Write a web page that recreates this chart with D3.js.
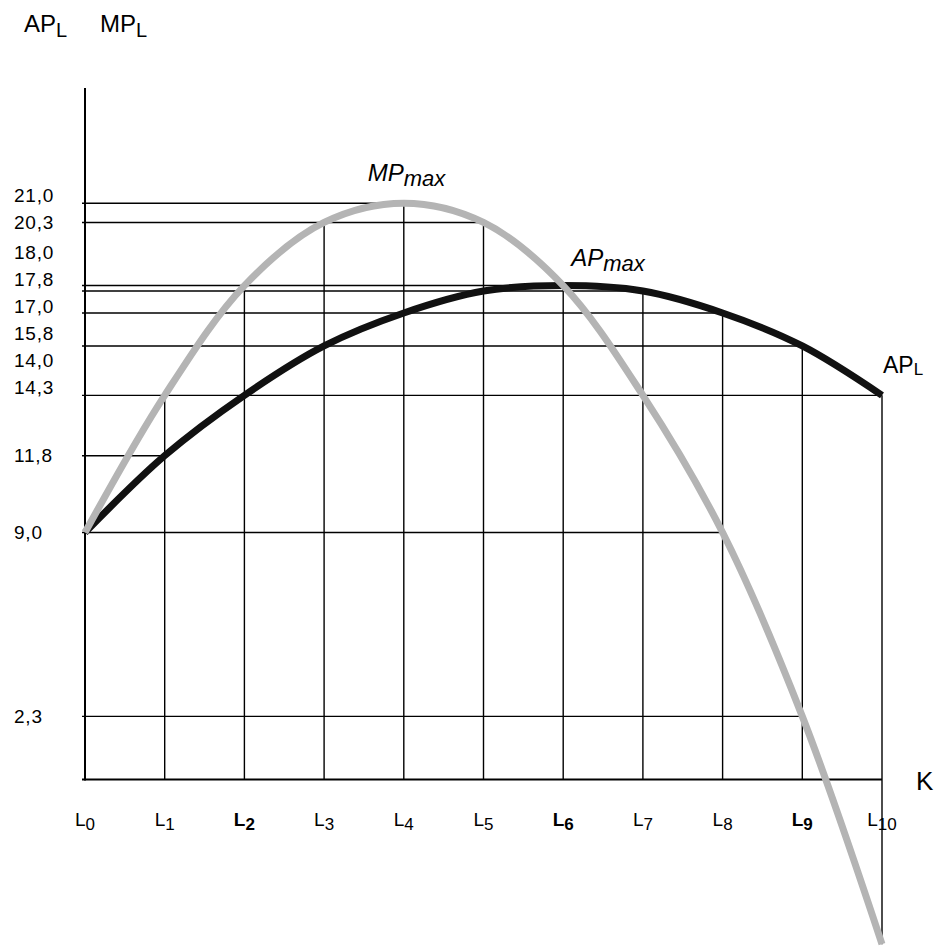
<!DOCTYPE html>
<html><head><meta charset="utf-8">
<script src="https://cdn.jsdelivr.net/npm/d3@7"></script>
<style>
html,body{margin:0;padding:0;background:#fff;}
svg{display:block;font-family:"Liberation Sans",Arial,Helvetica,sans-serif;}
</style>
</head><body>
<svg id="c" width="935" height="952"></svg>
<script>
// ---- data ----
const labourUnits = [0, 1, 2, 3, 4, 5, 6, 7, 8, 9, 10];
const apValues = [9.0, 11.8, 14.0, 15.8, 17.0, 17.8, 18.0, 17.8, 17.0, 15.8, 14.0];
const mpValues = [9.0, 14.0, 18.0, 20.3, 21.0, 20.3, 18.0, 14.0, 9.0, 2.3, -6.0];
const yTickValues = [21.0, 20.3, 18.0, 17.8, 17.0, 15.8, 14.0, 14.3, 11.8, 9.0, 2.3];
const yTickLabels = ["21,0", "20,3", "18,0", "17,8", "17,0", "15,8", "14,0", "14,3", "11,8", "9,0", "2,3"];
const xTickSubs = ["0", "1", "2", "3", "4", "5", "6", "7", "8", "9", "10"];

// ---- drawing ----
const svg = d3.select("#c");
const x = d3.scaleLinear().domain([0, 10]).range([85, 882]);
const y = d3.scaleLinear().domain([0, 25.2]).range([779.5, 88]);

const grid = svg.append("g").attr("stroke", "#000").attr("stroke-width", 1.4);

// horizontal guide lines: from axis to farthest point with that value
const pts = labourUnits.flatMap((l, i) => [{l, v: apValues[i]}, {l, v: mpValues[i]}]);
const hMap = Array.from(d3.rollup(pts.filter(p => p.v > 0), g => d3.max(g, p => p.l), p => p.v));
grid.selectAll("line.h").data(hMap).join("line").attr("class", "h")
  .attr("x1", x(0) - 3).attr("x2", d => x(d[1]))
  .attr("y1", d => y(d[0])).attr("y2", d => y(d[0]));

// vertical guide lines
grid.selectAll("line.v").data(labourUnits.slice(1)).join("line").attr("class", "v")
  .attr("x1", d => x(d)).attr("x2", d => x(d))
  .attr("y1", d => y(Math.min(0, apValues[d], mpValues[d])))
  .attr("y2", d => y(Math.max(apValues[d], mpValues[d])));

// axes
svg.append("line").attr("x1", x(0)).attr("x2", x(0)).attr("y1", y(0) + 1).attr("y2", y(25.2))
  .attr("stroke", "#000").attr("stroke-width", 2);
svg.append("line").attr("x1", x(0) - 3).attr("x2", x(10)).attr("y1", y(0)).attr("y2", y(0))
  .attr("stroke", "#000").attr("stroke-width", 2);

// curves
const line = d3.line().curve(d3.curveCatmullRom.alpha(0.5));
svg.append("path")
  .attr("d", line(labourUnits.map((l, i) => [x(l), y(apValues[i])])))
  .attr("fill", "none").attr("stroke", "#111").attr("stroke-width", 7);
svg.append("path")
  .attr("d", line(labourUnits.map((l, i) => [x(l), y(mpValues[i])])))
  .attr("fill", "none").attr("stroke", "#b4b4b4").attr("stroke-width", 7);

// y tick labels (pushed upward when crowded)
const gap = 27;
const pos = yTickValues.map(v => y(v));
for (let i = pos.length - 2; i >= 0; i--) pos[i] = Math.min(pos[i], pos[i + 1] - gap);
svg.append("g").selectAll("text").data(yTickLabels).join("text")
  .attr("x", 14).attr("y", (d, i) => pos[i]).attr("dy", "0.35em")
  .attr("font-size", 19).attr("letter-spacing", 0.8).attr("fill", "#000").text(d => d);

// x tick labels
const boldTicks = new Set([2, 6, 9]);
const xt = svg.append("g").selectAll("text").data(labourUnits).join("text")
  .attr("x", d => x(d)).attr("y", 826).attr("text-anchor", "middle")
  .attr("font-size", 19).attr("font-weight", d => boldTicks.has(d) ? "bold" : "normal");
xt.append("tspan").text("L");
xt.append("tspan").attr("dy", 4).attr("font-size", 17).text((d, i) => xTickSubs[i]);

// helper for label with subscript
function subLabel(px, py, main, sub, size, subSize, dy, italic) {
  const t = svg.append("text").attr("x", px).attr("y", py).attr("font-size", size)
    .attr("font-style", italic ? "italic" : "normal").attr("fill", "#000");
  t.append("tspan").text(main);
  t.append("tspan").attr("dy", dy).attr("font-size", subSize).text(sub);
  return t;
}

// axis titles
subLabel(24, 32, "AP", "L", 24, 20, 5, false);
subLabel(100, 32, "MP", "L", 24, 20, 5, false);
svg.append("text").attr("x", 916).attr("y", y(0) + 10).attr("font-size", 26).text("K");

// curve annotations
const iMp = d3.maxIndex(mpValues);
const iAp = d3.maxIndex(apValues);
subLabel(x(iMp) - 36, y(mpValues[iMp]) - 22, "MP", "max", 24, 22, 5, true);
subLabel(x(iAp) + 8, y(apValues[iAp]) - 20, "AP", "max", 24, 22, 5, true);
subLabel(x(10) + 1, y(apValues[10]) - 22, "AP", "L", 23, 17, 2, false);
</script>
</body></html>
